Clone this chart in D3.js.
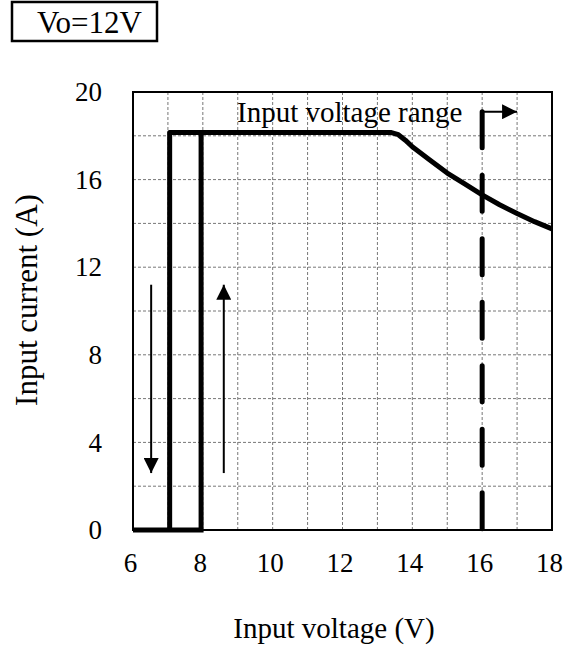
<!DOCTYPE html>
<html>
<head>
<meta charset="utf-8">
<script src="https://cdn.jsdelivr.net/npm/d3@7"></script>
<style>
  body { margin: 0; background: #fff; }
  svg text { font-family: "Liberation Serif", "Times New Roman", serif; fill: #000; }
</style>
</head>
<body>
<div class="container"></div>
<script>
// values
const xTicks = [6, 8, 10, 12, 14, 16, 18];
const yTicks = [0, 4, 8, 12, 16, 20];
const xGrid = d3.range(6, 19, 1);
const yGrid = d3.range(0, 21, 2);

// falling-voltage branch (turns off at ~7.05 V)
const mainVolt = [7.05, 7.05, 13.4, 13.6, 13.8, 14.0, 14.5, 15.0, 15.5, 16.0, 16.5, 17.0, 17.5, 18.0];
const mainCurr = [0, 18.15, 18.15, 18.05, 17.8, 17.5, 16.9, 16.3, 15.8, 15.3, 14.85, 14.45, 14.08, 13.75];
// rising-voltage branch (turns on at ~7.95 V)
const riseVolt = [6, 7.95, 7.95, 7.05];
const riseCurr = [0, 0, 18.15, 18.15];

// input voltage range marker
const rangeVolt = 16;
const rangeTop = 19.1;
const rangeArrowEnd = 17.0;

// hysteresis arrows: [volt, from, to]
const arrows = [
    [6.52, 11.2, 2.6],
    [8.6, 2.6, 11.2]
];

const width = 572, height = 647;
const margin = {left: 133, right: 20, top: 92, bottom: 117};

const x = d3.scaleLinear().domain([6, 18]).range([margin.left, width - margin.right]);
const y = d3.scaleLinear().domain([0, 20]).range([height - margin.bottom, margin.top]);

const svg = d3.select('.container').append('svg')
    .attr('width', width)
    .attr('height', height);

// grid
svg.append('g').selectAll('line')
    .data(xGrid.slice(1, -1))
    .enter().append('line')
    .attr('x1', d => x(d)).attr('x2', d => x(d))
    .attr('y1', y(0)).attr('y2', y(20))
    .attr('stroke', '#777').attr('stroke-width', 1)
    .attr('stroke-dasharray', '3,2');

svg.append('g').selectAll('line')
    .data(yGrid.slice(1, -1))
    .enter().append('line')
    .attr('x1', x(6)).attr('x2', x(18))
    .attr('y1', d => y(d)).attr('y2', d => y(d))
    .attr('stroke', '#777').attr('stroke-width', 1)
    .attr('stroke-dasharray', '3,2');

// frame
svg.append('rect')
    .attr('x', x(6)).attr('y', y(20))
    .attr('width', x(18) - x(6)).attr('height', y(0) - y(20))
    .attr('fill', 'none').attr('stroke', '#000').attr('stroke-width', 2);

// axes (labels only)
const xAxis = d3.axisBottom(x).tickValues(xTicks).tickSize(0).tickPadding(24);
const yAxis = d3.axisLeft(y).tickValues(yTicks).tickSize(0).tickPadding(31);

const gx = svg.append('g').attr('transform', 'translate(-3,' + y(0) + ')').call(xAxis);
gx.select('.domain').remove();
gx.selectAll('text').style('font-size', '27px').attr('dy', '0.68em');

const gy = svg.append('g').attr('transform', 'translate(' + x(6) + ',0)').call(yAxis);
gy.select('.domain').remove();
gy.selectAll('text').style('font-size', '27px');

// curves
const line = d3.line().x(d => x(d[0])).y(d => y(d[1]));
const mainData = mainVolt.map((v, i) => [v, mainCurr[i]]);
const riseData = riseVolt.map((v, i) => [v, riseCurr[i]]);

svg.append('path').datum(riseData).attr('d', line)
    .attr('fill', 'none').attr('stroke', '#000').attr('stroke-width', 5)
    .attr('stroke-linejoin', 'miter');
svg.append('path').datum(mainData).attr('d', line)
    .attr('fill', 'none').attr('stroke', '#000').attr('stroke-width', 5)
    .attr('stroke-linejoin', 'round');

// range marker
svg.append('line')
    .attr('x1', x(rangeVolt)).attr('x2', x(rangeVolt))
    .attr('y1', y(rangeTop)).attr('y2', y(0))
    .attr('stroke', '#000').attr('stroke-width', 5)
    .attr('stroke-linecap', 'round')
    .attr('stroke-dasharray', '36,27.5');

svg.append('defs').append('marker')
    .attr('id', 'head')
    .attr('viewBox', '0 0 10 10')
    .attr('refX', 10).attr('refY', 5)
    .attr('markerWidth', 7.5).attr('markerHeight', 7.5)
    .attr('markerUnits', 'strokeWidth')
    .attr('orient', 'auto')
    .append('path').attr('d', 'M0,0L10,5L0,10Z').attr('fill', '#000');

svg.append('line')
    .attr('x1', x(rangeVolt)).attr('x2', x(rangeArrowEnd))
    .attr('y1', y(rangeTop)).attr('y2', y(rangeTop))
    .attr('stroke', '#000').attr('stroke-width', 2)
    .attr('marker-end', 'url(#head)');

svg.append('text')
    .attr('x', 237).attr('y', 122)
    .style('font-size', '29px')
    .text('Input voltage range');

// hysteresis arrows
svg.append('g').selectAll('line')
    .data(arrows)
    .enter().append('line')
    .attr('x1', d => x(d[0])).attr('x2', d => x(d[0]))
    .attr('y1', d => y(d[1])).attr('y2', d => y(d[2]))
    .attr('stroke', '#000').attr('stroke-width', 2)
    .attr('marker-end', 'url(#head)');

// axis titles
svg.append('text')
    .attr('x', 334).attr('y', 638)
    .attr('text-anchor', 'middle')
    .style('font-size', '29px')
    .text('Input voltage (V)');

svg.append('text')
    .attr('transform', 'translate(37,300) rotate(-90)')
    .attr('text-anchor', 'middle')
    .style('font-size', '31px')
    .text('Input current (A)');

// condition box
svg.append('rect')
    .attr('x', 12).attr('y', 2).attr('width', 145).attr('height', 39)
    .attr('fill', '#fff').attr('stroke', '#000').attr('stroke-width', 2.5);
svg.append('text')
    .attr('x', 89.5).attr('y', 33)
    .attr('text-anchor', 'middle')
    .style('font-size', '31px')
    .text('Vo=12V');
</script>
</body>
</html>
